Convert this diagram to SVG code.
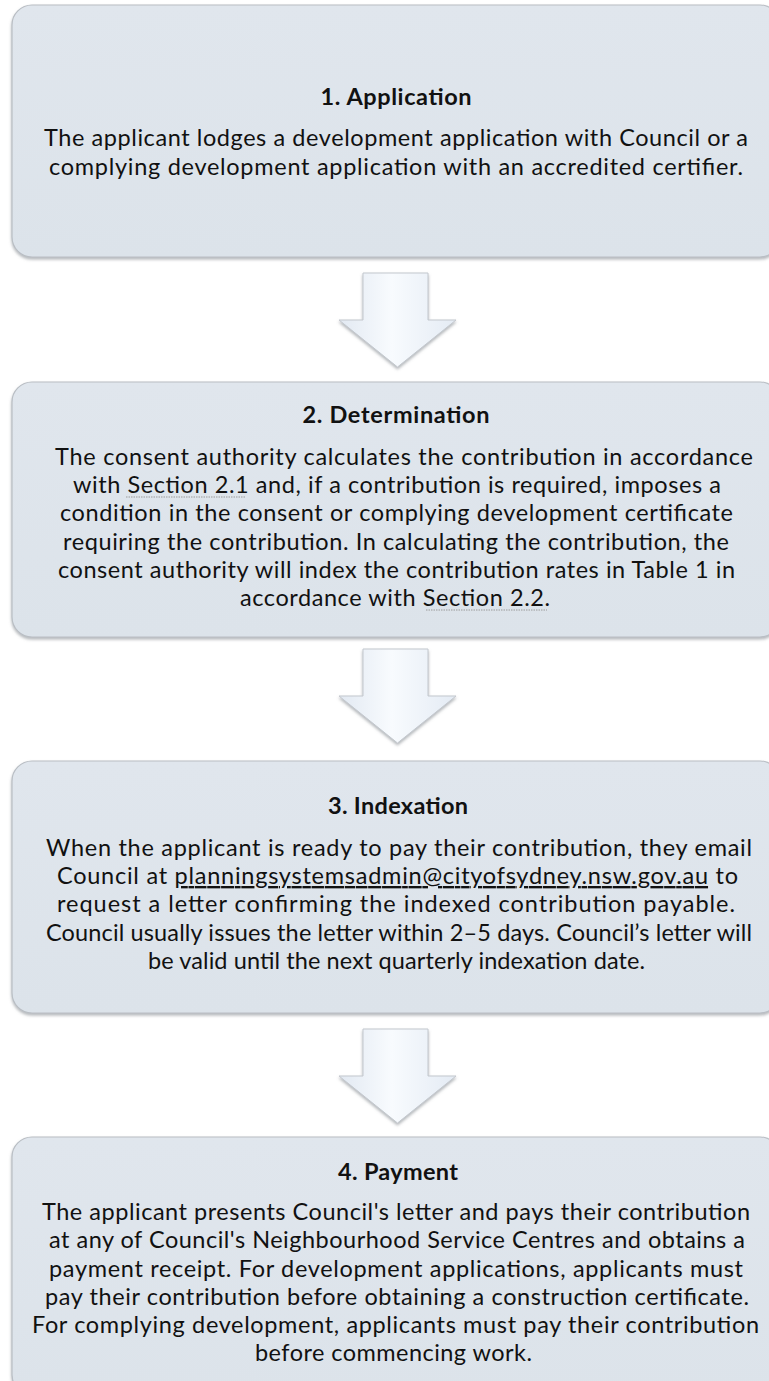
<svg xmlns="http://www.w3.org/2000/svg" width="769" height="1381" viewBox="0 0 769 1381">
  <defs>
    <linearGradient id="boxFill" x1="0" y1="0" x2="0" y2="1">
      <stop offset="0" stop-color="#e0e6ed"/>
      <stop offset="1" stop-color="#dce3ea"/>
    </linearGradient>
    <linearGradient id="arrowFill" x1="0" y1="0" x2="1" y2="0">
      <stop offset="0" stop-color="#e2e9f2"/>
      <stop offset="0.45" stop-color="#f8fbfe"/>
      <stop offset="1" stop-color="#e4ebf4"/>
    </linearGradient>
    <filter id="soft" x="-10%" y="-10%" width="120%" height="130%">
      <feGaussianBlur in="SourceAlpha" stdDeviation="1.6"/>
      <feOffset dx="0" dy="1.8" result="b"/>
      <feFlood flood-color="#80868c" flood-opacity="0.6"/>
      <feComposite in2="b" operator="in"/>
      <feMerge><feMergeNode/><feMergeNode in="SourceGraphic"/></feMerge>
    </filter>
    <path id="arrowShape" d="M363,0 H428 V47 H456 L397.5,94 L339,47 H363 Z"/>
  </defs>
  <style>
    .box { fill: url(#boxFill); stroke: #b9bec4; stroke-width: 1.2; filter: url(#soft); }
    .arrow { fill: url(#arrowFill); stroke: #c3c8ce; stroke-width: 1; filter: url(#soft); }
    .title { font-family: Lato, "Liberation Sans", sans-serif; font-weight: bold; font-size: 23.5px; fill: #111111; text-anchor: middle; }
    .body { font-family: Lato, "Liberation Sans", sans-serif; font-size: 23.5px; fill: #111111; text-anchor: middle; }
    .link { stroke: #9a9a9a; stroke-width: 1; stroke-dasharray: 1.5 1; }
    .mail { text-decoration: underline; }
  </style>

  <rect width="769" height="1381" fill="#ffffff"/>

  <!-- flow arrows between the steps -->
  <g id="connectors">
    <use href="#arrowShape" class="arrow" transform="translate(0,273)"/>
    <use href="#arrowShape" class="arrow" transform="translate(0,649)"/>
    <use href="#arrowShape" class="arrow" transform="translate(0,1029)"/>
  </g>

  <g id="step1">
    <rect class="box" x="12" y="5" width="768" height="252" rx="20"/>
    <text class="title" x="396" y="105" textLength="151">1. Application</text>
    <text class="body" x="396" y="146" textLength="704">The applicant lodges a development application with Council or a</text>
    <text class="body" x="396" y="175" textLength="694">complying development application with an accredited certifier.</text>
  </g>

  <g id="step2">
    <rect class="box" x="12" y="382" width="768" height="255" rx="20"/>
    <text class="title" x="396" y="423" textLength="187">2. Determination</text>
    <text class="body" x="404" y="465" textLength="698">The consent authority calculates the contribution in accordance</text>
    <text class="body" x="397" y="493" textLength="648">with Section 2.1 and, if a contribution is required, imposes a</text>
    <text class="body" x="396.5" y="521" textLength="673">condition in the consent or complying development certificate</text>
    <text class="body" x="396" y="550" textLength="666">requiring the contribution. In calculating the contribution, the</text>
    <text class="body" x="396.5" y="578" textLength="677">consent authority will index the contribution rates in Table 1 in</text>
    <text class="body" x="395" y="606" textLength="310">accordance with Section 2.2.</text>
    <line class="link" x1="126" y1="497" x2="245" y2="497"/>
    <line class="link" x1="426" y1="610" x2="547" y2="610"/>
  </g>

  <g id="step3">
    <rect class="box" x="12" y="761" width="768" height="252" rx="20"/>
    <text class="title" x="398" y="814" textLength="140">3. Indexation</text>
    <text class="body" x="399" y="856" textLength="706">When the applicant is ready to pay their contribution, they email</text>
    <text class="body" x="397.5" y="884" textLength="681">Council at <tspan class="mail">planningsystemsadmin@cityofsydney.nsw.gov.au</tspan> to</text>
    <text class="body" x="396" y="912" textLength="678">request a letter confirming the indexed contribution payable.</text>
    <text class="body" x="399" y="941" textLength="706">Council usually issues the letter within 2–5 days. Council’s letter will</text>
    <text class="body" x="396.5" y="969" textLength="497">be valid until the next quarterly indexation date.</text>
  </g>

  <g id="step4">
    <rect class="box" x="12" y="1137" width="768" height="258" rx="20"/>
    <text class="title" x="398" y="1180" textLength="120">4. Payment</text>
    <text class="body" x="396" y="1220" textLength="708">The applicant presents Council's letter and pays their contribution</text>
    <text class="body" x="397" y="1248" textLength="696">at any of Council's Neighbourhood Service Centres and obtains a</text>
    <text class="body" x="396" y="1277" textLength="694">payment receipt. For development applications, applicants must</text>
    <text class="body" x="397" y="1305" textLength="704">pay their contribution before obtaining a construction certificate.</text>
    <text class="body" x="395.5" y="1333" textLength="727">For complying development, applicants must pay their contribution</text>
    <text class="body" x="393.5" y="1361" textLength="277">before commencing work.</text>
  </g>
</svg>
